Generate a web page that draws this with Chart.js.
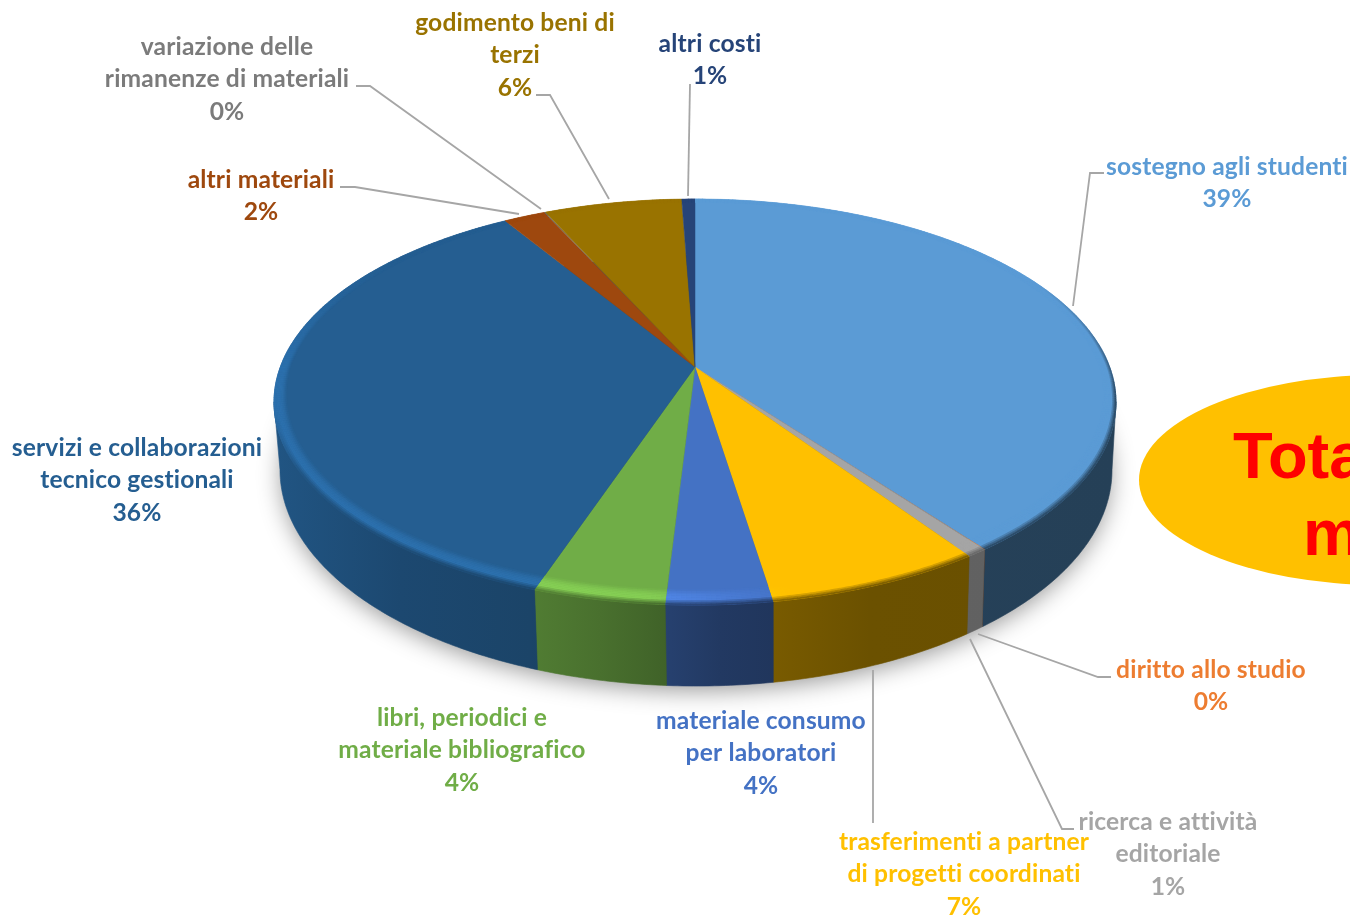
<!DOCTYPE html>
<html>
<head>
<meta charset="utf-8">
<style>
  html, body { margin: 0; padding: 0; background: #fff; overflow: hidden; }
  canvas { display: block; }
</style>
</head>
<body>
<canvas id="pie" width="1350" height="917"></canvas>
<script src="https://cdn.jsdelivr.net/npm/chart.js@4/dist/chart.umd.js"></script>
<script>
// values, clockwise from 12 o'clock
const categories = ['sostegno agli studenti', 'diritto allo studio', 'ricerca e attività editoriale',
  'trasferimenti a partner di progetti coordinati', 'materiale consumo per laboratori',
  'libri, periodici e materiale bibliografico', 'servizi e collaborazioni tecnico gestionali',
  'altri materiali', 'variazione delle rimanenze di materiali', 'godimento beni di terzi', 'altri costi'];
const values = [39.7, 0.02, 0.68, 7.1, 3.45, 4.3, 35.95, 1.9, 0.05, 6.25, 0.6];
const percents = ['39%', '0%', '1%', '7%', '4%', '4%', '36%', '2%', '0%', '6%', '1%'];
const sliceColors = ['#5B9BD5', '#ED7D31', '#A5A5A5', '#FFC000', '#4472C4', '#70AD47', '#255E91', '#9E480E', '#636363', '#997300', '#264478'];
const labelColors = ['#5B9BD5', '#ED7D31', '#A5A5A5', '#FFC000', '#4472C4', '#70AD47', '#255E91', '#9E480E', '#7B7B7B', '#997300', '#264478'];
// the grey slice keeps more of its colour on the wall
const wallGain = [1, 1, 1.42, 1, 1, 1, 1, 1, 1, 1, 1];

// wrapped label text, centre x and first baseline
const labelLines = [['sostegno agli studenti'], ['diritto allo studio'], ['ricerca e attività', 'editoriale'],
  ['trasferimenti a partner', 'di progetti coordinati'], ['materiale consumo', 'per laboratori'],
  ['libri, periodici e', 'materiale bibliografico'], ['servizi e collaborazioni', 'tecnico gestionali'],
  ['altri materiali'], ['variazione delle', 'rimanenze di materiali'], ['godimento beni di', 'terzi'], ['altri costi']];
const labelX = [1227, 1211, 1168, 964, 761, 462, 137, 261, 227, 515, 710];
const labelY = [174.5, 677.5, 829.5, 849.5, 728.5, 725.5, 455.5, 187.5, 54.5, 30.5, 51.5];

// leader lines, label end first
const leaders = [
  [[1104, 173], [1090, 173], [1073, 306]],
  [[1111, 677], [1098, 677], [978, 634]],
  [[1074, 829], [1062, 829], [970, 639]],
  [[873, 823], [873, 670]],
  null, null, null,
  [[340, 187], [355, 187], [519, 214]],
  [[356, 86], [370, 86], [541, 209]],
  [[536, 95], [550, 95], [609, 199]],
  [[690, 84], [688, 196]]
];

// perspective of the pie top: hub at (695,367), rim 199 at the back, 605 at the front
const hubX = 695, hubY = 367, topA = 414.7, topB = 197, persp = 0.1724;

function project(theta, r) {
  const u = r * Math.cos(theta), v = r * Math.sin(theta), w = 1 - persp * v;
  return { x: hubX + topA * u / w, y: hubY + topB * v / w };
}
// rim of the base of the cylinder
function projectBase(theta) {
  const p = project(theta, 1);
  return { x: 696 + (p.x - 695) * 416 / 421, y: 470 + (p.y - 402) * 216 / 203 };
}
function rgb(hex) {
  return [1, 3, 5].map(i => parseInt(hex.slice(i, i + 2), 16));
}
function css(c) {
  return `rgb(${c.map(n => Math.min(255, Math.round(n))).join(',')})`;
}
function mix(a, b, t) {
  return a.map((n, i) => n + (b[i] - n) * t);
}
function clamp(t) {
  return Math.max(0, Math.min(1, t));
}
// the wall gets darker towards the right
const shadeStops = [[273, 0.9], [400, 0.77], [530, 0.72], [600, 0.65], [720, 0.5], [870, 0.42], [1120, 0.41]];
function shadeAt(x) {
  for (let i = 1; i < shadeStops.length; i++) {
    const [x0, s0] = shadeStops[i - 1], [x1, s1] = shadeStops[i];
    if (x <= x1) return s0 + (s1 - s0) * clamp((x - x0) / (x1 - x0));
  }
  return 0.41;
}

function drawWall(ctx, arc, base) {
  // the silhouette turns where the rim is widest
  const from = Math.max(arc.startAngle, persp), to = Math.min(arc.endAngle, Math.PI - persp);
  if (to <= from) return;
  const grad = ctx.createLinearGradient(273, 0, 1120, 0);
  shadeStops.forEach(([x, s]) => grad.addColorStop((x - 273) / 847, css(base.map(n => n * s))));
  const steps = Math.max(2, Math.ceil((to - from) * 90));
  ctx.beginPath();
  for (let i = 0; i <= steps; i++) {
    const p = project(from + (to - from) * i / steps, 1);
    i ? ctx.lineTo(p.x, p.y) : ctx.moveTo(p.x, p.y);
  }
  for (let i = steps; i >= 0; i--) {
    const p = projectBase(from + (to - from) * i / steps);
    ctx.lineTo(p.x, p.y);
  }
  ctx.closePath();
  ctx.fillStyle = grad;
  ctx.fill();
  // hide seams, but a hair-thin slice should stay invisible
  if (to - from > 0.01) {
    ctx.strokeStyle = grad;
    ctx.lineWidth = 0.6;
    ctx.stroke();
  }
}

function drawTop(ctx, arc, color) {
  const steps = Math.max(2, Math.ceil((arc.endAngle - arc.startAngle) * 120));
  ctx.beginPath();
  ctx.moveTo(hubX, hubY);
  for (let i = 0; i <= steps; i++) {
    const p = project(arc.startAngle + (arc.endAngle - arc.startAngle) * i / steps, 1);
    ctx.lineTo(p.x, p.y);
  }
  ctx.closePath();
  ctx.fillStyle = color;
  ctx.fill();
  if (arc.endAngle - arc.startAngle > 0.01) {
    ctx.strokeStyle = color;
    ctx.lineWidth = 0.5;
    ctx.stroke();
  }
}

// soft bevel along the rim: highlight on the left, blur into the wall in front
function drawBevel(ctx, arc, base, gain) {
  const rings = 10, r1 = 1;
  const seg = Math.PI / 300;
  const n = Math.max(1, Math.ceil((arc.endAngle - arc.startAngle) / seg));
  const da = (arc.endAngle - arc.startAngle) / n;
  for (let i = 0; i < n; i++) {
    const a0 = arc.startAngle + i * da, a1 = Math.min(arc.endAngle, a0 + da * 1.15);
    const mid = a0 + da / 2, u = Math.cos(mid), v = Math.sin(mid);
    // wide in front, narrow where the rim turns away
    const r0 = 0.975 - 0.03 * clamp(v);
    const fadeBack = clamp((v + 0.6) / 0.6);
    const sideMix = u > 0 ? clamp((v + 0.45) / 0.6) : clamp((v - 0.2) / 0.3);
    const lift = (u < -0.1 ? 0.19 : u < 0.2 ? 0.19 * (0.2 - u) / 0.3 : 0) * fadeBack;
    const mx = project(mid, 1).x;
    const wall = base.map(c => c * shadeAt(mx) * gain);
    for (let k = 0; k < rings; k++) {
      const t = (k + 0.5) / rings;
      const ra = r0 + (r1 - r0) * k / rings, rb = r0 + (r1 - r0) * (k + 1) / rings + 0.001;
      let c = base.map(c0 => c0 * (1 + lift * Math.sin(Math.PI / 2 * Math.min(1, t / 0.55))));
      if (t > 0.65) c = mix(c, wall, sideMix * (t - 0.65) / 0.35);
      const p0 = project(a0, ra), p1 = project(a1, ra), p2 = project(a1, rb), p3 = project(a0, rb);
      ctx.beginPath();
      ctx.moveTo(p0.x, p0.y);
      ctx.lineTo(p1.x, p1.y);
      ctx.lineTo(p2.x, p2.y);
      ctx.lineTo(p3.x, p3.y);
      ctx.closePath();
      ctx.fillStyle = css(c);
      ctx.fill();
    }
  }
}

const pie3d = {
  id: 'pie3d',
  beforeDraw(chart) {
    const ctx = chart.ctx;
    // "Totale" bubble, cut by the page edge
    ctx.save();
    ctx.fillStyle = '#FFC000';
    ctx.beginPath();
    ctx.ellipse(1381, 480, 242, 105, 0, 0, Math.PI * 2);
    ctx.fill();
    ctx.fillStyle = '#FF0000';
    ctx.font = 'bold 65px "Liberation Sans"';
    ctx.textAlign = 'left';
    ctx.fillText('Tota', 1233, 478);
    ctx.fillText('m', 1303, 555);
    ctx.restore();
  },
  beforeDatasetDraw(chart) {
    const ctx = chart.ctx, arcs = chart.getDatasetMeta(0).data;
    ctx.save();
    // ground shadow
    ctx.save();
    ctx.shadowColor = 'rgba(0,0,0,0.42)';
    ctx.shadowBlur = 24;
    ctx.shadowOffsetY = 5;
    ctx.fillStyle = '#333';
    ctx.beginPath();
    ctx.ellipse(696, 470, 414, 215, 0, 0, Math.PI * 2);
    ctx.fill();
    ctx.restore();
    arcs.forEach((arc, i) => drawWall(ctx, arc, rgb(sliceColors[i]).map(c => c * wallGain[i])));
    arcs.forEach((arc, i) => drawTop(ctx, arc, sliceColors[i]));
    arcs.forEach((arc, i) => drawBevel(ctx, arc, rgb(sliceColors[i]), wallGain[i]));
    ctx.restore();
    return false; // the arcs are drawn above, in perspective
  },
  afterDatasetsDraw(chart) {
    const ctx = chart.ctx;
    ctx.save();
    ctx.strokeStyle = '#A6A6A6';
    ctx.lineWidth = 1.8;
    leaders.forEach(pts => {
      if (!pts) return;
      ctx.beginPath();
      pts.forEach((p, i) => i ? ctx.lineTo(p[0], p[1]) : ctx.moveTo(p[0], p[1]));
      ctx.stroke();
    });
    ctx.font = 'bold 24.6px Lato';
    ctx.letterSpacing = '0.15px';
    ctx.textAlign = 'center';
    ctx.textBaseline = 'alphabetic';
    categories.forEach((_, i) => {
      ctx.fillStyle = labelColors[i];
      const lines = labelLines[i].concat(percents[i]);
      lines.forEach((line, k) => ctx.fillText(line, labelX[i], labelY[i] + k * 32.8));
    });
    ctx.restore();
  }
};

new Chart(document.getElementById('pie'), {
  type: 'pie',
  data: {
    labels: categories,
    datasets: [{ data: values, backgroundColor: sliceColors, borderWidth: 0 }]
  },
  options: {
    responsive: false,
    animation: false,
    devicePixelRatio: 1,
    rotation: 0,
    plugins: { legend: { display: false }, tooltip: { enabled: false } }
  },
  plugins: [pie3d]
});
</script>
</body>
</html>
